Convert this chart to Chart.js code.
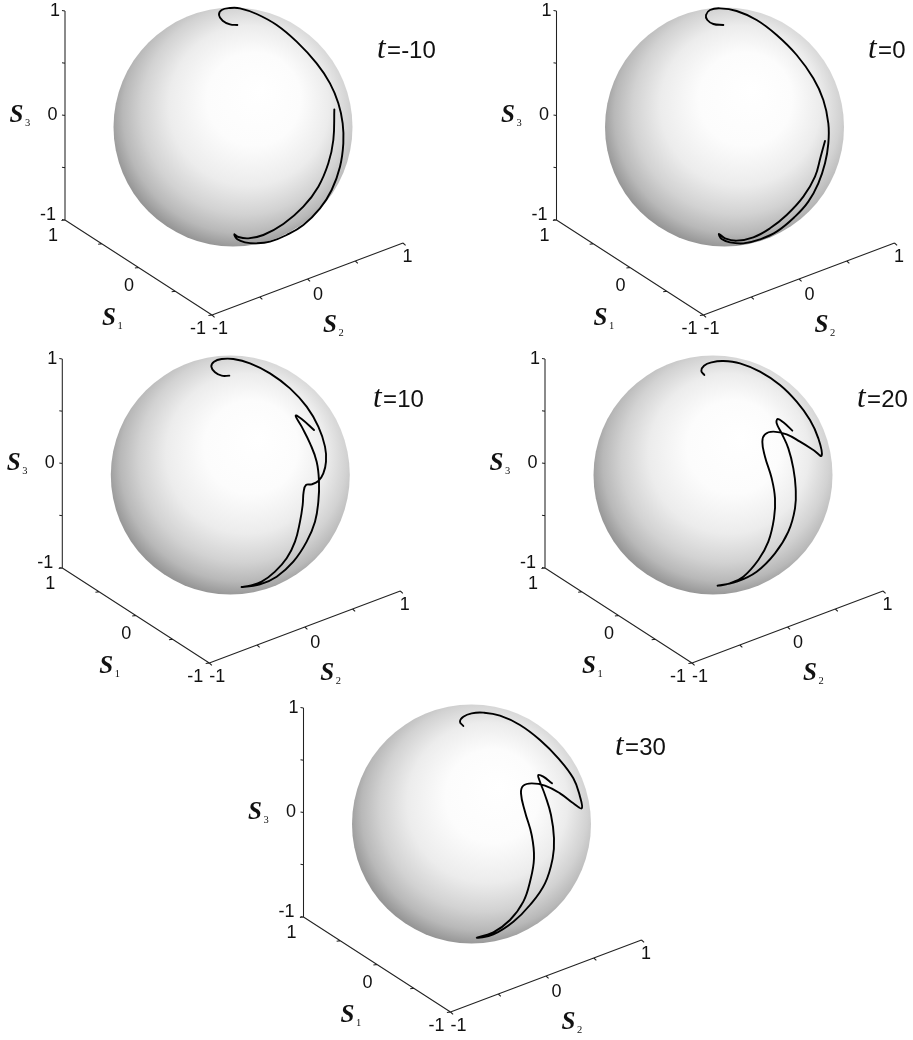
<!DOCTYPE html>
<html><head><meta charset="utf-8">
<style>html,body{margin:0;padding:0;background:#fff}canvas{display:block}</style>
<script src="https://cdn.jsdelivr.net/npm/chart.js@4"></script>
</head><body><canvas id="c" width="913" height="1040"></canvas>
<script>
// Panel times and where each panel sits relative to the first one
const panelTimes = ['-10','0','10','20','30'];
const panelDx = [0,491.5,-2.7,480,238.5];
const panelDy = [0,0,348,348,697];
const timeLabelX = [377,868,373,857,615];
const timeLabelY = [58,58,407,407,755];
// Axes (first panel), tick values and tick labels
const axisTicks = [-1,-0.5,0,0.5,1];
const tickLabels = ['-1','0','1'];
const s3Axis = [[65,220],[65,11]];
const s1Axis = [[212,315],[65,220]];
const s2Axis = [[212,315],[403,243]];
// Sphere (first panel)
const sphereCentre = [233,127];
const sphereRadius = 119.5;
const cropX = [0,480,0,480,230];
const cropY = [0,0,345,345,695];
const curveM10X = [712,690,668,657,665,690,720,770,830,890,950,990,1015,1028,1030,1020,995,960,910,860,810,770,735,712,703,715,745,790,850,910,955,985,1000,1003];
const curveM10Y = [75,73,62,45,30,24,25,42,75,125,190,250,310,370,430,500,570,625,675,705,725,730,727,718,703,711,715,705,672,620,560,490,420,328];
const curve0X = [730,700,682,678,690,720,770,830,890,950,1000,1030,1045,1045,1035,1015,985,945,890,840,790,750,725,717,735,770,820,870,920,970,1005,1022,1035];
const curve0Y = [75,72,60,45,30,25,33,60,105,165,235,300,370,430,490,550,605,650,695,718,730,727,717,702,715,722,712,685,645,590,530,470,423];
const curve10X = [688,665,645,634,642,665,700,750,810,870,920,955,975,978,970,955,935,918,911,908,900,885,860,825,785,750,725,780,830,880,920,945,955,957,950,930,905,887,905,942];
const curve10Y = [92,92,82,65,50,42,42,55,85,130,185,245,305,350,385,408,418,420,440,480,530,590,640,680,710,722,726,718,695,650,590,530,470,410,350,295,245,212,222,255];
const curve20X = [673,664,672,695,730,780,840,900,950,990,1015,1025,1000,960,920,880,855,847,855,875,885,882,865,835,790,750,713,770,830,885,925,945,947,940,925,905,890,893,910,937];
const curve20Y = [90,78,62,52,48,55,80,120,170,225,280,332,315,290,268,260,268,290,335,400,460,520,590,645,695,715,722,710,680,625,560,490,430,370,310,265,235,222,232,257];
const curve30X = [700,690,700,725,760,810,870,930,985,1030,1050,1055,1030,990,945,905,880,873,885,905,912,900,880,840,790,740,790,850,900,945,968,972,963,945,928,925,940,966];
const curve30Y = [93,80,65,55,53,62,90,135,190,250,305,340,325,295,272,265,272,295,350,420,490,560,620,675,712,728,718,680,630,565,490,430,360,300,255,240,245,265];
const curvesX = [curveM10X,curve0X,curve10X,curve20X,curve30X];
const curvesY = [curveM10Y,curve0Y,curve10Y,curve20Y,curve30Y];

const axisColor = '#222222';
const axisPoint = (axis,v)=>{const f=(v+1)/2;return {x:axis[0][0]+f*(axis[1][0]-axis[0][0]),y:axis[0][1]+f*(axis[1][1]-axis[0][1])};};

function axisData(dx,dy){
  const pts=[];
  const seg=(a,b)=>{pts.push({x:a.x+dx,y:a.y+dy},{x:b.x+dx,y:b.y+dy},{x:NaN,y:NaN});};
  [[s3Axis,-3,-0.6],[s1Axis,-3.6,0.5],[s2Axis,2.6,2.4]].forEach(([ax,tx,ty])=>{
    seg(axisPoint(ax,-1),axisPoint(ax,1));
    axisTicks.forEach(v=>{const p=axisPoint(ax,v);seg(p,{x:p.x+tx,y:p.y+ty});});
  });
  return pts;
}

const datasets=[];
panelTimes.forEach((t,i)=>{
  const dx=panelDx[i],dy=panelDy[i];
  const cx=sphereCentre[0]+dx,cy=sphereCentre[1]+dy;
  datasets.push({
    type:'scatter',order:10,clip:false,data:[{x:cx,y:cy}],pointRadius:sphereRadius,pointHoverRadius:sphereRadius,pointBorderWidth:0,pointBorderColor:'rgba(0,0,0,0)',
    pointBackgroundColor:(c)=>{
      const sx=c.chart.scales.x,sy=c.chart.scales.y;
      if(!sx||!sy)return '#ddd';
      const px=sx.getPixelForValue(cx),py=sy.getPixelForValue(cy);
      if(!Number.isFinite(px)||!Number.isFinite(py))return '#ddd';
      const g=c.chart.ctx.createRadialGradient(px+28,py-37,0,px+8,py-11,sphereRadius+14);
      g.addColorStop(0,'#ffffff');g.addColorStop(.35,'#fcfcfc');g.addColorStop(.6,'#ececec');
      g.addColorStop(.78,'#d2d2d2');g.addColorStop(.9,'#b8b8b8');g.addColorStop(1,'#929292');
      return g;
    }
  });
  datasets.push({type:'scatter',showLine:true,order:5,clip:false,data:axisData(dx,dy),borderColor:axisColor,borderWidth:1.05,pointRadius:0,spanGaps:false,tension:0});
  datasets.push({type:'scatter',showLine:true,order:1,clip:false,
    data:curvesX[i].map((x,k)=>({x:cropX[i]+x/3,y:cropY[i]+curvesY[i][k]/3})),
    borderColor:'#000',borderWidth:1.9,pointRadius:0,tension:0.42,borderCapStyle:'round',borderJoinStyle:'round'});
});

const textPlugin={id:'panelText',afterDatasetsDraw(chart){
  const {ctx,scales:{x:sx,y:sy}}=chart;
  const X=v=>sx.getPixelForValue(v),Y=v=>sy.getPixelForValue(v);
  ctx.save();ctx.fillStyle='#111';
  const num=(s,x,y)=>{ctx.font='18px "Liberation Sans"';ctx.textAlign='center';ctx.textBaseline='middle';ctx.fillText(s,X(x),Y(y));};
  const sym=(sub,x,y)=>{ctx.textAlign='center';ctx.textBaseline='alphabetic';ctx.font='italic bold 25px "Liberation Serif"';ctx.fillText('S',X(x),Y(y));
    ctx.font='10.5px "Liberation Serif"';ctx.fillText(sub,X(x)+11,Y(y)+4);};
  panelTimes.forEach((t,i)=>{
    const dx=panelDx[i],dy=panelDy[i];
    num(tickLabels[2],55+dx,11+dy);num(tickLabels[1],52.5+dx,115+dy);num(tickLabels[0],48+dx,215+dy);
    num(tickLabels[2],53+dx,236+dy);num(tickLabels[1],129+dx,286+dy);num(tickLabels[0],198+dx,329+dy);
    num(tickLabels[0],220+dx,329+dy);num(tickLabels[1],318+dx,295+dy);num(tickLabels[2],407.5+dx,257+dy);
    sym('3',16.5+dx,122+dy);sym('1',109+dx,325+dy);sym('2',330+dx,332+dy);
    ctx.textAlign='left';ctx.textBaseline='alphabetic';
    ctx.font='italic 31px "Liberation Serif"';
    const lx=X(timeLabelX[i]),ly=Y(timeLabelY[i]);
    ctx.fillText('t',lx,ly);
    const w=ctx.measureText('t').width;
    ctx.font='24px "Liberation Sans"';
    ctx.fillText('='+t,lx+w+1.5,ly);
  });
  ctx.restore();
}};

new Chart(document.getElementById('c').getContext('2d'),{
  type:'scatter',
  data:{datasets},
  options:{
    responsive:false,animation:false,events:[],
    layout:{padding:0,autoPadding:false},
    plugins:{legend:{display:false},tooltip:{enabled:false}},
    scales:{
      x:{type:'linear',min:0,max:913,display:false},
      y:{type:'linear',min:0,max:1040,reverse:true,display:false}
    }
  },
  plugins:[textPlugin]
});
</script></body></html>
